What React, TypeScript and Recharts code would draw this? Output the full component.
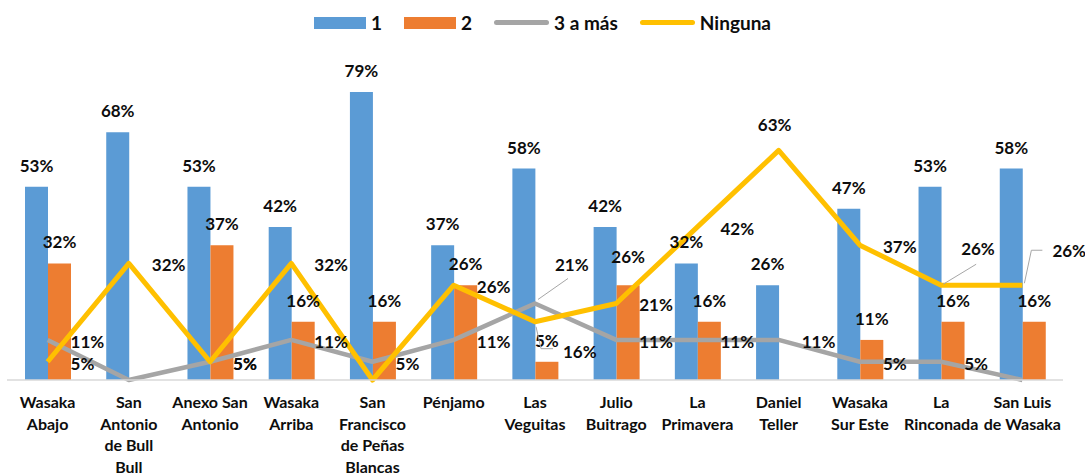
import { ComposedChart, Bar, Line, XAxis, YAxis, Legend, LabelList } from 'recharts';

const categories = [
  'Wasaka\nAbajo',
  'San\nAntonio\nde Bull\nBull',
  'Anexo San\nAntonio',
  'Wasaka\nArriba',
  'San\nFrancisco\nde Peñas\nBlancas',
  'Pénjamo',
  'Las\nVeguitas',
  'Julio\nBuitrago',
  'La\nPrimavera',
  'Daniel\nTeller',
  'Wasaka\nSur Este',
  'La\nRinconada',
  'San Luis\nde Wasaka',
];

const unoValues = [53, 68, 53, 42, 79, 37, 58, 42, 32, 26, 47, 53, 58];
const dosValues = [32, 0, 37, 16, 16, 26, 5, 26, 16, 0, 11, 16, 16];
const tresValues = [11, 0, 5, 11, 5, 11, 21, 11, 11, 11, 5, 5, 0];
const ningunaValues = [5, 32, 5, 32, 0, 26, 16, 21, 42, 63, 37, 26, 26];

const seriesNames = ['1', '2', '3 a más', 'Ninguna'];

const BLUE = '#5B9BD5';
const ORANGE = '#ED7D31';
const GRAY = '#A5A5A5';
const YELLOW = '#FFC000';
const FONT = 'Lato, "Noto Sans", sans-serif';

const chartData = categories.map((name, i) => ({
  name,
  uno: unoValues[i],
  dos: dosValues[i],
  tres: tresValues[i],
  ninguna: ningunaValues[i],
}));

interface Placement {
  dx: number;
  dy: number;
  anchor?: 'start' | 'middle';
  leader?: number[][];
}

// label placement tweaks (Excel moved a few labels and drew leader lines)
const ningunaPlacement: Record<number, Placement> = {
  6: { dx: 28, dy: 36, leader: [[1, 5], [6, 27], [18, 27]] },
  9: { dx: -4, dy: -19, anchor: 'middle' },
  11: { dx: 20, dy: -30, leader: [[2, -1], [35, -21]] },
  12: { dx: 30, dy: -28, leader: [[2, -2], [9, -35], [20, -35]] },
};
const tresPlacement: Record<number, Placement> = {
  6: { dx: 20, dy: -32, leader: [[3, -4], [33, -25]] },
};
const dosLabelLift: Record<number, number> = { 6: 22 };

function makeLineLabel(placements: Record<number, Placement>) {
  return (props: any) => {
    const { x, y, value, index } = props;
    if (!value) return null;
    const p = placements[index] ?? { dx: 23, dy: 8 };
    return (
      <g>
        {p.leader && (
          <polyline
            points={p.leader.map(([lx, ly]) => `${x + lx},${y + ly}`).join(' ')}
            fill="none"
            stroke="#A6A6A6"
            strokeWidth={1}
          />
        )}
        <text
          x={x + p.dx}
          y={y + p.dy}
          textAnchor={p.anchor ?? 'start'}
          fontFamily={FONT}
          fontWeight={700}
          fontSize={17}
          fill="#0d0d0d"
        >
          {`${value}%`}
        </text>
      </g>
    );
  };
}

function makeBarLabel(lift: Record<number, number>) {
  return (props: any) => {
    const { x, y, width, value, index } = props;
    if (!value) return null;
    return (
      <text
        x={x + width / 2}
        y={y - (lift[index] ?? 15)}
        textAnchor="middle"
        fontFamily={FONT}
        fontWeight={700}
        fontSize={17}
        fill="#0d0d0d"
      >
        {`${value}%`}
      </text>
    );
  };
}

function CategoryTick(props: any) {
  const { x, y, payload } = props;
  const lines = String(payload.value).split('\n');
  return (
    <text textAnchor="middle" fontFamily={FONT} fontWeight={700} fontSize={16} fill="#0d0d0d">
      {lines.map((line, i) => (
        <tspan key={i} x={x} y={y + 28 + i * 21.5}>
          {line}
        </tspan>
      ))}
    </text>
  );
}

function ChartLegend() {
  const markers = [
    { color: BLUE, kind: 'rect' },
    { color: ORANGE, kind: 'rect' },
    { color: GRAY, kind: 'line' },
    { color: YELLOW, kind: 'line' },
  ];
  return (
    <div
      style={{
        display: 'flex',
        justifyContent: 'center',
        alignItems: 'center',
        fontFamily: FONT,
        fontWeight: 700,
        fontSize: 19,
        color: '#0d0d0d',
      }}
    >
      {markers.map((m, i) => (
        <div key={i} style={{ display: 'flex', alignItems: 'center', marginLeft: i === 0 ? 0 : 22 }}>
          {m.kind === 'rect' ? (
            <div style={{ width: 52, height: 12, background: m.color }} />
          ) : (
            <div style={{ width: 55, height: 5, borderRadius: 3, background: m.color }} />
          )}
          <span style={{ marginLeft: 5 }}>{seriesNames[i]}</span>
        </div>
      ))}
    </div>
  );
}

export default function App() {
  return (
    <div style={{ position: 'absolute', left: 0, top: 0, width: 1085, height: 474, background: '#fff' }}>
      <ComposedChart
        width={1085}
        height={474}
        data={chartData}
        margin={{ top: 52, right: 22, bottom: 0, left: 7 }}
        barSize={23}
        barGap={0}
      >
        <XAxis
          dataKey="name"
          interval={0}
          height={94}
          tickLine={false}
          tickSize={0}
          tickMargin={0}
          axisLine={{ stroke: '#D9D9D9', strokeWidth: 1.5 }}
          tick={<CategoryTick />}
        />
        <YAxis hide domain={[0, 90]} />
        <Legend
          verticalAlign="middle"
          align="center"
          wrapperStyle={{ top: 11, left: 0, width: 1085 }}
          content={() => <ChartLegend />}
        />
        <Bar dataKey="uno" name="1" fill={BLUE} isAnimationActive={false}>
          <LabelList dataKey="uno" content={makeBarLabel({})} />
        </Bar>
        <Bar dataKey="dos" name="2" fill={ORANGE} isAnimationActive={false}>
          <LabelList dataKey="dos" content={makeBarLabel(dosLabelLift)} />
        </Bar>
        <Line
          type="linear"
          dataKey="tres"
          name="3 a más"
          stroke={GRAY}
          strokeWidth={4.5}
          strokeLinejoin="round"
          dot={false}
          activeDot={false}
          isAnimationActive={false}
        >
          <LabelList dataKey="tres" content={makeLineLabel(tresPlacement)} />
        </Line>
        <Line
          type="linear"
          dataKey="ninguna"
          name="Ninguna"
          stroke={YELLOW}
          strokeWidth={5}
          strokeLinejoin="round"
          dot={false}
          activeDot={false}
          isAnimationActive={false}
        >
          <LabelList dataKey="ninguna" content={makeLineLabel(ningunaPlacement)} />
        </Line>
      </ComposedChart>
    </div>
  );
}
